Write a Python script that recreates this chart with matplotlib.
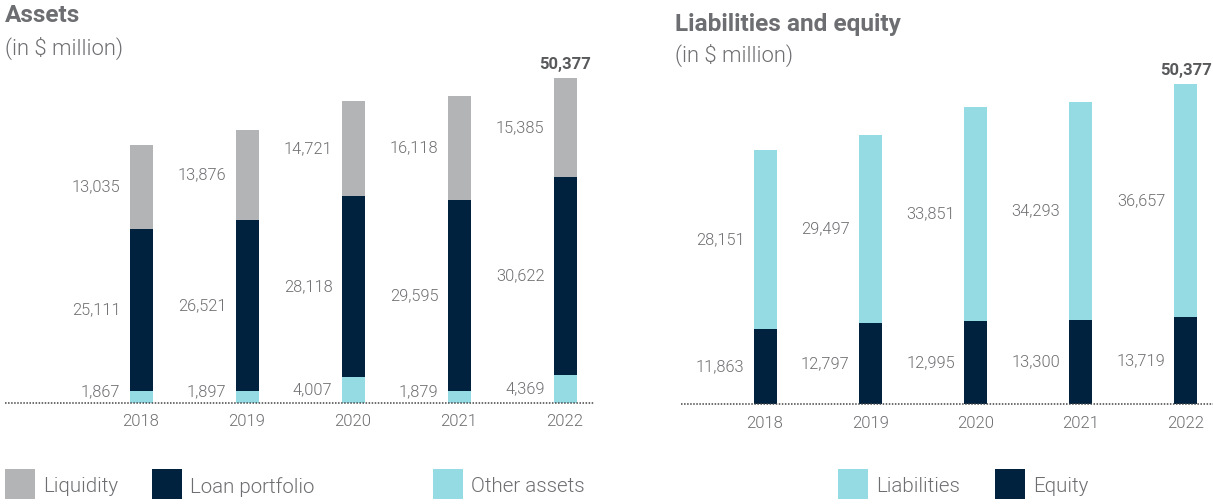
import matplotlib
matplotlib.use("Agg")
import matplotlib.pyplot as plt
from matplotlib.patches import Rectangle

# Figures in $ million
years = ["2018", "2019", "2020", "2021", "2022"]
other_assets = [1867, 1897, 4007, 1879, 4369]
loan_portfolio = [25111, 26521, 28118, 29595, 30622]
liquidity = [13035, 13876, 14721, 16118, 15385]
equity = [11863, 12797, 12995, 13300, 13719]
liabilities = [28151, 29497, 33851, 34293, 36657]
total_label = "50,377"

GRAY = "#B3B4B6"
NAVY = "#00223F"
CYAN = "#94DBE4"
TEXT = "#6D6E71"
DARK = "#58595B"

W, H = 1213, 504
FONT = "Roboto"
LIGHT = 300

fig = plt.figure(figsize=(W / 100, H / 100), dpi=100)


def fx(x):
    return x / W


def fy(y):
    return 1 - y / H


def make_axes(left, right, top, base):
    ax = fig.add_axes([fx(left), fy(base), fx(right) - fx(left), (base - top) / H])
    ax.set_axis_off()
    return ax


def stacked(ax, x0, spacing, left_px, right_px, top_px, base_px, px_per_k, series, colors):
    ax.set_xlim(-(x0 - left_px) / spacing, (right_px - x0) / spacing)
    ax.set_ylim(0, (base_px - top_px) / px_per_k * 1000)
    width = 23 / spacing
    min_mid = 11 / px_per_k * 1000  # keep small labels clear of the baseline
    n = len(years)
    bottoms = [0] * n
    for vals, col in zip(series, colors):
        ax.bar(range(n), vals, width=width, bottom=bottoms, color=col, linewidth=0, zorder=2)
        for i, v in enumerate(vals):
            mid = max(bottoms[i] + v / 2, min_mid)
            ax.annotate(f"{v:,}", xy=(i - width / 2, mid),
                        xytext=(-9, 0), textcoords="offset pixels",
                        ha="right", va="center", fontsize=11.8, color=TEXT,
                        family=FONT, weight=LIGHT)
        bottoms = [b + v for b, v in zip(bottoms, vals)]
    ax.axhline(0, color="#444444", lw=1.1, linestyle=(0, (1, 1)), zorder=3, clip_on=False)
    for i, y in enumerate(years):
        ax.annotate(y, xy=(i, 0), xytext=(0, -19), textcoords="offset pixels",
                    ha="center", va="center", fontsize=12, color=TEXT,
                    family=FONT, weight=LIGHT)
    ax.annotate(total_label, xy=(n - 1, bottoms[-1]), xytext=(0, 6),
                textcoords="offset pixels", ha="center", va="bottom",
                fontsize=12, color=DARK, family=FONT, weight="bold")


# Assets
ax1 = make_axes(5, 594, 60, 403)
stacked(ax1, 141, 106, 5, 594, 60, 403, 6.45,
        [other_assets, loan_portfolio, liquidity], [CYAN, NAVY, GRAY])

# Liabilities and equity
ax2 = make_axes(681, 1213, 60, 404)
stacked(ax2, 765, 105.2, 681, 1213, 60, 404, 6.35,
        [equity, liabilities], [NAVY, CYAN])

# Titles
fig.text(fx(5), fy(16), "Assets", fontsize=17.6, weight="bold", color=TEXT,
         family=FONT, va="center", ha="left")
fig.text(fx(5), fy(48), "(in $ million)", fontsize=15.8, weight=LIGHT, color=TEXT,
         family=FONT, va="center", ha="left")
fig.text(fx(675), fy(25), "Liabilities and equity", fontsize=17.6, weight="bold",
         color=TEXT, family=FONT, va="center", ha="left")
fig.text(fx(675), fy(55), "(in $ million)", fontsize=15.8, weight=LIGHT, color=TEXT,
         family=FONT, va="center", ha="left")

# Legends
legend_items = [
    (5, GRAY, "Liquidity"),
    (152, NAVY, "Loan portfolio"),
    (433, CYAN, "Other assets"),
    (838, CYAN, "Liabilities"),
    (995, NAVY, "Equity"),
]
for x, col, label in legend_items:
    fig.patches.append(Rectangle((fx(x), fy(499)), 30 / W, 30 / H,
                                 transform=fig.transFigure, color=col, linewidth=0))
    fig.text(fx(x + 38), fy(487), label, fontsize=14.8, weight=LIGHT, color=TEXT,
             family=FONT, va="center", ha="left")

fig.savefig("out.png", dpi=100)
